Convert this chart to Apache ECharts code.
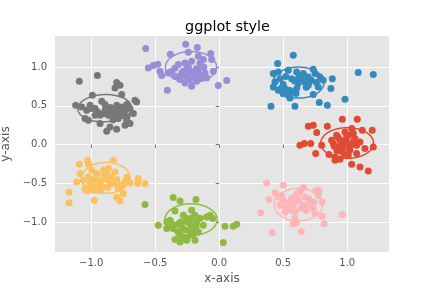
<!DOCTYPE html>
<html><head><meta charset="utf-8">
<script src="https://cdn.jsdelivr.net/npm/echarts@6/dist/echarts.min.js"></script>
<style>html,body{margin:0;padding:0;background:#fff}#c{width:432px;height:288px}</style>
</head><body><div id="c"></div>
<script>
const colors = ['#E24A33', '#348ABD', '#988ED5', '#777777', '#FBC15E', '#8EBA42', '#FFB5B8'];
const seriesNames = ['red', 'blue', 'purple', 'gray', 'yellow', 'green', 'pink'];

const redPoints = [[0.696,0.236],[0.735,0.249],[0.762,0.155],[0.845,0.236],[0.962,0.326],[1.079,0.326],[0.631,-0.009],[0.665,0.013],[0.715,0.013],[0.801,-0.009],[0.754,-0.116],[0.858,-0.129],[0.905,-0.203],[0.944,-0.190],[1.035,-0.254],[1.100,-0.289],[1.165,-0.341],[1.204,-0.031],[1.196,0.184],[1.118,0.184],[1.035,0.206],[0.918,0.120],[0.891,0.013],[0.957,0.034],[0.996,0.099],[1.061,0.077],[1.074,-0.009],[1.139,-0.052],[1.074,-0.116],[1.009,-0.138],[0.970,-0.031],[0.930,-0.052],[0.879,0.056],[0.983,0.163],[1.048,0.142],[0.905,-0.160],[1.100,0.034],[1.022,-0.009],[0.944,0.056],[0.98,0.05],[1.01,0.12],[0.93,0.09],[1.05,0.0],[0.96,-0.09],[1.02,-0.07],[0.90,-0.02],[0.95,0.0],[1.0,0.02],[1.05,0.05],[0.98,-0.12],[0.92,-0.08]];
const bluePoints = [[0.579,1.152],[0.457,1.045],[0.423,0.916],[0.462,0.937],[0.540,0.959],[0.606,0.937],[0.657,0.916],[0.735,0.972],[0.749,0.916],[0.788,0.872],[0.813,0.830],[0.884,0.851],[0.475,0.851],[0.566,0.851],[0.644,0.851],[0.696,0.872],[0.696,0.765],[0.774,0.743],[0.873,0.722],[0.423,0.743],[0.462,0.701],[0.514,0.722],[0.566,0.679],[0.606,0.722],[0.540,0.636],[0.553,0.602],[0.501,0.657],[0.735,0.645],[0.405,0.494],[0.592,0.494],[0.782,0.542],[0.845,0.507],[0.983,0.585],[1.087,0.929],[1.204,0.903],[0.670,0.808],[0.436,0.808],[0.618,0.787],[0.59,0.82],[0.68,0.74],[0.50,0.78],[0.72,0.83],[0.52,0.88],[0.62,0.86],[0.70,0.80],[0.76,0.80],[0.55,0.70],[0.60,0.66],[0.48,0.72]];
const purplePoints = [[-0.574,1.239],[-0.262,1.294],[-0.171,1.252],[-0.382,1.165],[-0.241,1.191],[-0.066,1.174],[-0.059,1.097],[-0.124,1.097],[-0.163,1.139],[-0.554,0.988],[-0.515,1.019],[-0.480,1.036],[-0.463,0.946],[-0.449,0.890],[-0.371,0.946],[-0.319,1.032],[-0.267,1.053],[-0.215,1.075],[-0.241,1.010],[-0.293,0.924],[-0.345,0.881],[-0.306,0.839],[-0.267,0.795],[-0.215,0.752],[-0.189,0.881],[-0.228,0.946],[-0.163,0.968],[-0.111,0.924],[-0.137,0.859],[-0.098,0.859],[-0.176,0.817],[-0.046,0.946],[-0.007,0.761],[0.059,0.826],[-0.405,0.701],[-0.254,0.881],[-0.345,0.988],[-0.150,1.053],[-0.241,0.839],[-0.398,0.924],[-0.20,0.92],[-0.25,0.98],[-0.15,0.90],[-0.28,0.95],[-0.18,0.98],[-0.12,1.0],[-0.30,0.88],[-0.22,0.86]];
const grayPoints = [[-1.093,0.817],[-0.952,0.890],[-0.801,0.800],[-0.775,0.765],[-0.814,0.730],[-0.762,0.645],[-0.991,0.636],[-1.121,0.507],[-1.074,0.485],[-1.009,0.507],[-1.035,0.443],[-0.970,0.465],[-0.918,0.559],[-0.892,0.516],[-0.931,0.378],[-1.048,0.335],[-1.022,0.314],[-0.931,0.271],[-0.853,0.421],[-0.801,0.507],[-0.762,0.485],[-0.723,0.516],[-0.658,0.572],[-0.645,0.550],[-0.697,0.465],[-0.671,0.400],[-0.749,0.378],[-0.788,0.335],[-0.723,0.314],[-0.697,0.271],[-0.736,0.249],[-0.853,0.227],[-0.879,0.172],[-0.801,0.197],[-0.827,0.443],[-0.866,0.378],[-0.775,0.421],[-0.814,0.378],[-0.970,0.378],[-0.892,0.443],[-0.736,0.443],[-0.996,0.465],[-0.85,0.48],[-0.80,0.45],[-0.76,0.40],[-0.90,0.40],[-0.83,0.32],[-0.72,0.36],[-0.95,0.42]];
const yellowPoints = [[-1.093,-0.254],[-1.030,-0.203],[-1.022,-0.254],[-0.827,-0.203],[-1.087,-0.374],[-1.113,-0.483],[-1.061,-0.461],[-1.022,-0.418],[-1.009,-0.503],[-1.048,-0.568],[-1.035,-0.599],[-0.983,-0.590],[-0.931,-0.590],[-0.905,-0.547],[-0.957,-0.374],[-0.905,-0.332],[-0.866,-0.310],[-0.814,-0.354],[-0.892,-0.439],[-0.840,-0.503],[-0.801,-0.503],[-0.762,-0.525],[-0.723,-0.418],[-0.736,-0.483],[-0.697,-0.495],[-0.632,-0.439],[-0.637,-0.503],[-0.580,-0.503],[-0.788,-0.568],[-0.749,-0.632],[-0.801,-0.676],[-0.775,-0.728],[-0.976,-0.719],[-1.173,-0.611],[-1.173,-0.749],[-0.866,-0.461],[-0.944,-0.461],[-0.996,-0.332],[-0.95,-0.52],[-0.87,-0.55],[-0.90,-0.40],[-0.98,-0.45],[-0.93,-0.50],[-0.85,-0.42],[-0.80,-0.45],[-1.0,-0.55],[-0.88,-0.35]];
const greenPoints = [[-0.580,-0.774],[-0.359,-0.684],[-0.306,-0.728],[-0.181,-0.710],[-0.345,-0.857],[-0.280,-0.912],[-0.215,-0.848],[-0.189,-0.912],[-0.072,-0.912],[-0.051,-0.955],[-0.476,-1.041],[-0.410,-0.999],[-0.371,-1.020],[-0.319,-1.020],[-0.410,-1.084],[-0.359,-1.084],[-0.293,-1.063],[-0.228,-1.020],[-0.176,-0.999],[-0.124,-1.041],[-0.202,-1.084],[-0.241,-1.106],[-0.163,-1.127],[-0.306,-1.170],[-0.345,-1.226],[-0.306,-1.256],[-0.254,-1.235],[-0.189,-1.235],[-0.228,-1.170],[0.045,-1.054],[0.110,-1.054],[0.137,-1.028],[0.032,-1.265],[-0.098,-0.934],[-0.254,-0.955],[-0.384,-0.977],[-0.280,-1.192],[-0.22,-0.95],[-0.30,-1.00],[-0.18,-1.05],[-0.35,-1.05],[-0.27,-1.10],[-0.20,-1.15],[-0.32,-1.13],[-0.15,-0.95],[-0.25,-1.0]];
const pinkPoints = [[0.371,-0.495],[0.501,-0.525],[0.657,-0.555],[0.436,-0.624],[0.488,-0.654],[0.389,-0.710],[0.566,-0.697],[0.605,-0.641],[0.631,-0.611],[0.754,-0.598],[0.780,-0.590],[0.774,-0.654],[0.805,-0.740],[0.709,-0.740],[0.670,-0.676],[0.475,-0.783],[0.527,-0.805],[0.566,-0.848],[0.592,-0.869],[0.514,-0.869],[0.657,-0.783],[0.696,-0.805],[0.735,-0.826],[0.749,-0.891],[0.805,-0.925],[0.821,-1.020],[0.592,-0.955],[0.579,-1.020],[0.605,-1.011],[0.324,-0.878],[0.415,-1.136],[0.641,-1.123],[0.962,-0.903],[0.553,-0.740],[0.722,-0.761],[0.462,-0.676],[0.62,-0.72],[0.68,-0.85],[0.55,-0.80],[0.50,-0.72],[0.58,-0.78],[0.64,-0.82],[0.70,-0.70],[0.74,-0.74],[0.52,-0.84]];

const ellipseCenters = [[1.0,0.02],[0.62,0.80],[-0.22,1.0],[-0.895,0.47],[-0.886,-0.43],[-0.22,-0.968],[0.618,-0.775]];
const ellipseRadii = [[0.206,0.198],[0.2,0.2],[0.2,0.2],[0.21,0.175],[0.19,0.2],[0.204,0.204],[0.19,0.208]];
const ellipseAngles = [0,0,0,8,-12,0,0];

const xTicks = [-1.0,-0.5,0.0,0.5,1.0];
const yTicks = [-1.0,-0.5,0.0,0.5,1.0];

const allPoints = [redPoints, bluePoints, purplePoints, grayPoints, yellowPoints, greenPoints, pinkPoints];

function fmt(v){ return (v < -1e-9 ? '\u2212' : '') + Math.abs(v).toFixed(1); }

const ellipseData = ellipseCenters.map((c,i)=>[c[0],c[1],ellipseRadii[i][0],ellipseRadii[i][1],ellipseAngles[i]]);

const font = 'DejaVu Sans';
const series = [{
  type:'custom',
  data: ellipseData,
  encode:{x:0,y:1},
  clip:true,
  silent:true,
  z:1,
  renderItem:function(params, api){
    const i = params.dataIndex;
    const cx = api.value(0), cy = api.value(1), rx = api.value(2), ry = api.value(3), a = api.value(4)*Math.PI/180;
    const pts = [];
    for (let k=0;k<=120;k++){
      const t = k/120*2*Math.PI;
      const ex = rx*Math.cos(t), ey = ry*Math.sin(t);
      pts.push(api.coord([cx + ex*Math.cos(a) - ey*Math.sin(a), cy + ex*Math.sin(a) + ey*Math.cos(a)]));
    }
    return {type:'polyline', shape:{points:pts}, style:{stroke:colors[i], fill:null, lineWidth:1.5}};
  }
}];
allPoints.forEach((pts,i)=>{
  series.push({type:'scatter', name:seriesNames[i], data:pts, symbolSize:7, itemStyle:{color:colors[i], opacity:1}, z:2, silent:true});
});

const chart = echarts.init(document.getElementById('c'), null, {renderer:'canvas'});
chart.setOption({
  animation:false,
  backgroundColor:'#ffffff',
  title:{text:'ggplot style', left:180, top:15, textStyle:{fontFamily:font, fontSize:14.4, fontWeight:'normal', color:'#000000'}},
  grid:{left:55, right:43, top:36, bottom:36, show:true, backgroundColor:'#E5E5E5', borderWidth:0, containLabel:false, outerBoundsMode:'none'},
  xAxis:{type:'value', min:-1.283, max:1.327,
    name:'x-axis', nameLocation:'middle', nameGap:21, nameTextStyle:{fontFamily:font, fontSize:12, color:'#555555'},
    axisLine:{show:false},
    axisTick:{show:true, length:3.5, lineStyle:{color:'#555555', width:0.8}, customValues:xTicks},
    axisLabel:{fontFamily:font, fontSize:10, color:'#555555', margin:6, formatter:fmt, customValues:xTicks},
    splitLine:{show:true, lineStyle:{color:'#ffffff', width:1}}
  },
  yAxis:{type:'value', min:-1.386, max:1.401,
    name:'y-axis', nameLocation:'middle', nameGap:34, nameTextStyle:{fontFamily:font, fontSize:12, color:'#555555'},
    axisLine:{show:false},
    axisTick:{show:true, length:3.5, lineStyle:{color:'#555555', width:0.8}, customValues:yTicks},
    axisLabel:{fontFamily:font, fontSize:10, color:'#555555', margin:8, formatter:fmt, customValues:yTicks},
    splitLine:{show:true, lineStyle:{color:'#ffffff', width:1}}
  },
  series:series
});
</script></body></html>
